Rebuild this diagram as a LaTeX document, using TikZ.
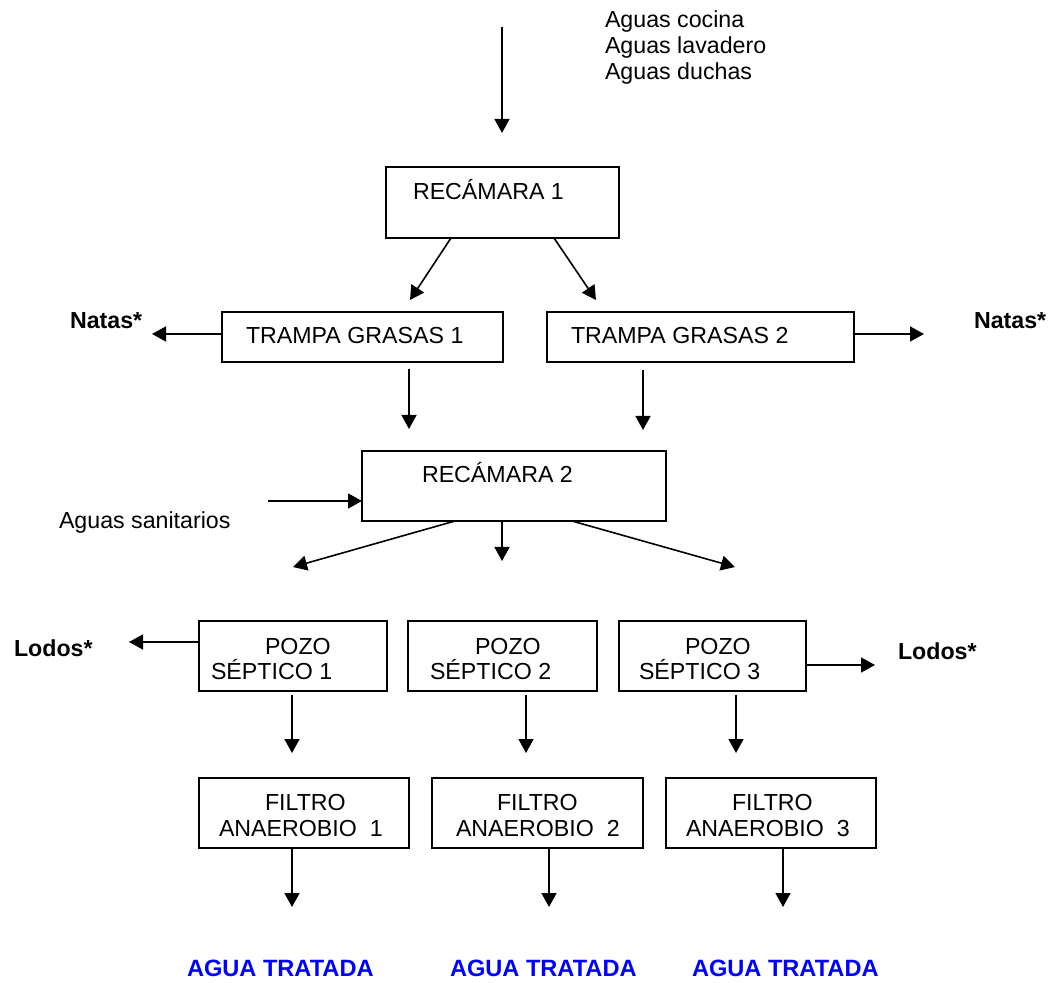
\documentclass[tikz,border=0pt]{standalone}
\usepackage{fontspec}
\setmainfont{Liberation Sans}
\usetikzlibrary{arrows.meta}
\definecolor{tratada}{RGB}{0,0,255}
\begin{document}
\begin{tikzpicture}[x=0.5pt,y=-0.5pt,
  font=\fontsize{11.6pt}{13pt}\selectfont,
  box/.style={draw, line width=1pt, inner sep=0pt, outer sep=0pt, rectangle},
  lbl/.style={anchor=base west, inner sep=0pt, outer sep=0pt},
  bl/.style={lbl, font=\fontsize{11.6pt}{13pt}\selectfont\bfseries},
  agua/.style={lbl, font=\fontsize{11.8pt}{13pt}\selectfont\bfseries, text=tratada},
  flow/.style={line width=0.8pt, -{Triangle[length=7pt,width=7.5pt]}}]
\useasboundingbox (0,0) rectangle (1055,983);

% boxes
\node[box, minimum width=116.5pt, minimum height=35.5pt] (r1) at (502.5,202.5) {};
\node[box, minimum width=140.5pt, minimum height=25pt] (tg1) at (362.5,337) {};
\node[box, minimum width=153.5pt, minimum height=25pt] (tg2) at (700.5,337) {};
\node[box, minimum width=152pt, minimum height=35pt] (r2) at (514,486) {};
\node[box, minimum width=94pt, minimum height=35pt] (ps1) at (293,656) {};
\node[box, minimum width=94.5pt, minimum height=35pt] (ps2) at (502.5,656) {};
\node[box, minimum width=93.5pt, minimum height=35pt] (ps3) at (712.5,656) {};
\node[box, minimum width=105pt, minimum height=35pt] (f1) at (304,813) {};
\node[box, minimum width=105.5pt, minimum height=35pt] (f2) at (537.5,813) {};
\node[box, minimum width=105pt, minimum height=35pt] (f3) at (771,813) {};

% texts
\node[lbl] (in1) at (605,28) {Aguas cocina};
\node[lbl] (in2) at (605,54) {Aguas lavadero};
\node[lbl] (in3) at (605,80) {Aguas duchas};
\node[lbl] (r1t) at (413,200) {RECÁMARA 1};
\node[lbl] (tg1t) at (246,344) {TRAMPA GRASAS 1};
\node[lbl] (tg2t) at (571,344) {TRAMPA GRASAS 2};
\node[bl] (nat1) at (70,329) {Natas*};
\node[bl] (nat2) at (974,329) {Natas*};
\node[lbl] (r2t) at (422,483) {RECÁMARA 2};
\node[lbl] (san) at (59,529) {Aguas sanitarios};
\node[bl] (lod1) at (14,657) {Lodos*};
\node[bl] (lod2) at (898,660) {Lodos*};
\node[lbl] (ps1a) at (265,654) {POZO};
\node[lbl] (ps1b) at (211,680) {SÉPTICO 1};
\node[lbl] (ps2a) at (475,654) {POZO};
\node[lbl] (ps2b) at (430,680) {SÉPTICO 2};
\node[lbl] (ps3a) at (685,654) {POZO};
\node[lbl] (ps3b) at (639,680) {SÉPTICO 3};
\node[lbl] (f1a) at (265,810) {FILTRO};
\node[lbl] (f1b) at (219,836) {ANAEROBIO\ \ 1};
\node[lbl] (f2a) at (497,810) {FILTRO};
\node[lbl] (f2b) at (456,836) {ANAEROBIO\ \ 2};
\node[lbl] (f3a) at (732,810) {FILTRO};
\node[lbl] (f3b) at (686,836) {ANAEROBIO\ \ 3};
\node[agua] (a1) at (187,976) {AGUA TRATADA};
\node[agua] (a2) at (450,976) {AGUA TRATADA};
\node[agua] (a3) at (692,976) {AGUA TRATADA};

% free arrow ends
\coordinate (topstart) at (502,27);
\coordinate (topend) at (502,133);
\coordinate (r1l) at (451,238);
\coordinate (r1r) at (554,238);
\coordinate (tg1in) at (410,300);
\coordinate (tg2in) at (596,300);
\coordinate (nat1e) at (152,334);
\coordinate (nat2e) at (924,334);
\coordinate (tg1o) at (409,369);
\coordinate (tg1e) at (409,429);
\coordinate (tg2o) at (643,370);
\coordinate (tg2e) at (643,430);
\coordinate (sans) at (268,501);
\coordinate (r2l) at (455,521);
\coordinate (r2m) at (502,521);
\coordinate (r2r) at (572,521);
\coordinate (ps1in) at (293,567);
\coordinate (ps2in) at (502,561);
\coordinate (ps3in) at (735,567);
\coordinate (lod1e) at (129,642);
\coordinate (lod2e) at (875,665);
\coordinate (ps1o) at (292,695);
\coordinate (ps1e) at (292,753);
\coordinate (ps2o) at (526,695);
\coordinate (ps2e) at (526,753);
\coordinate (ps3o) at (736,695);
\coordinate (ps3e) at (736,753);
\coordinate (f1o) at (292,848);
\coordinate (f1e) at (292,907);
\coordinate (f2o) at (549,848);
\coordinate (f2e) at (549,907);
\coordinate (f3o) at (783,848);
\coordinate (f3e) at (783,907);

% connectors
\draw[flow] (topstart) -- (topend);
\draw[flow] (r1l) -- (tg1in);
\draw[flow] (r1r) -- (tg2in);
\draw[flow] (tg1.west |- nat1e) -- (nat1e);
\draw[flow] (tg2.east |- nat2e) -- (nat2e);
\draw[flow] (tg1o) -- (tg1e);
\draw[flow] (tg2o) -- (tg2e);
\draw[flow] (sans) -- (r2.west |- sans);
\draw[flow] (r2l) -- (ps1in);
\draw[flow] (r2m) -- (ps2in);
\draw[flow] (r2r) -- (ps3in);
\draw[flow] (ps1.west |- lod1e) -- (lod1e);
\draw[flow] (ps3.east |- lod2e) -- (lod2e);
\draw[flow] (ps1o) -- (ps1e);
\draw[flow] (ps2o) -- (ps2e);
\draw[flow] (ps3o) -- (ps3e);
\draw[flow] (f1o) -- (f1e);
\draw[flow] (f2o) -- (f2e);
\draw[flow] (f3o) -- (f3e);
\end{tikzpicture}
\end{document}
